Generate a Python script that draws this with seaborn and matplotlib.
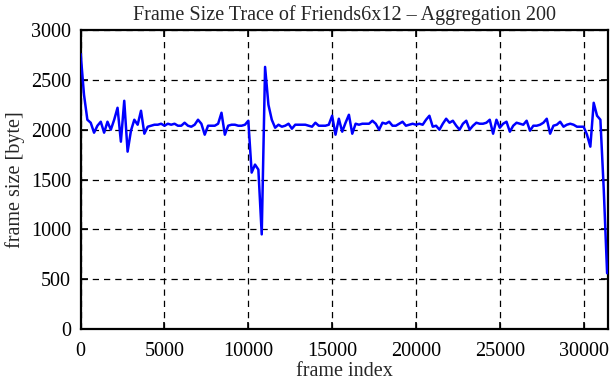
import matplotlib
matplotlib.use("Agg")
import matplotlib.pyplot as plt
import seaborn as sns
import pandas as pd
import numpy as np

title = "Frame Size Trace of Friends6x12 \u2013 Aggregation 200"
x_label = "frame index"
y_label = "frame size [byte]"
x_ticks = [0, 5000, 10000, 15000, 20000, 25000, 30000]
y_ticks = [0, 500, 1000, 1500, 2000, 2500, 3000]

aggregation = 200
frame_size = [
    2760, 2350, 2100, 2070, 1970, 2040, 2080, 1970, 2080, 2000,
    2100, 2220, 1880, 2290, 1780, 1990, 2100, 2050, 2190, 1960,
    2030, 2040, 2050, 2050, 2060, 2040, 2060, 2050, 2060, 2040,
    2040, 2070, 2040, 2030, 2050, 2100, 2060, 1950, 2040, 2040,
    2040, 2060, 2170, 1950, 2040, 2050, 2050, 2040, 2040, 2050,
    2090, 1570, 1650, 1600, 950, 2630, 2250, 2100, 2020, 2050,
    2030, 2040, 2060, 2010, 2050, 2050, 2050, 2050, 2040, 2030,
    2070, 2040, 2040, 2040, 2050, 2140, 1950, 2110, 1980, 2070,
    2150, 1960, 2060, 2050, 2060, 2060, 2060, 2090, 2060, 2000,
    2070, 2060, 2080, 2040, 2040, 2060, 2080, 2040, 2050, 2060,
    2050, 2060, 2050, 2100, 2140, 2030, 2040, 2000, 2060, 2110,
    2070, 2090, 2040, 2000, 2060, 2090, 2000, 2040, 2070, 2060,
    2060, 2070, 2100, 1960, 2100, 2020, 2060, 2080, 1980, 2040,
    2070, 2060, 2050, 2090, 1990, 2040, 2040, 2050, 2070, 2110,
    1960, 2040, 2050, 2080, 2030, 2050, 2060, 2050, 2030, 2030,
    2030, 1950, 1830, 2270, 2140, 2100, 1400, 560,
]
frame_index = [i * aggregation for i in range(len(frame_size))]

df = pd.DataFrame({"frame_index": frame_index, "frame_size": frame_size})

sns.set_style("ticks")
plt.rcParams["font.family"] = ["Liberation Serif", "DejaVu Serif"]

fig = plt.figure(figsize=(6.11, 3.80), dpi=100)
ax = fig.add_axes([0.132, 0.134, 0.863, 0.787])

sns.lineplot(data=df, x="frame_index", y="frame_size", ax=ax,
             color="#0000ff", linewidth=1.8, zorder=3)

ax.set_xlim(0, 31450)
ax.set_ylim(0, 3000)
ax.set_xticks(x_ticks)
ax.set_yticks(y_ticks)
ax.set_xticklabels([str(t) for t in x_ticks])
ax.set_yticklabels([str(t) for t in y_ticks])

ax.grid(True, color="black", linestyle=(0, (5, 4)), linewidth=0.9, zorder=1)
for s in ax.spines.values():
    s.set_visible(True)
    s.set_linewidth(1.6)
    s.set_color("black")
ax.tick_params(direction="in", length=5, width=1.2, top=True, right=True,
               labelsize=14.5, colors="black")
ax.tick_params(axis="x", pad=9)
ax.tick_params(axis="y", pad=7)

ax.set_title(title, fontsize=14.5, pad=7)
ax.set_xlabel(x_label, fontsize=14.5, labelpad=1)
ax.set_ylabel(y_label, fontsize=14.5, labelpad=4)

fig.savefig("out.png", dpi=100)
